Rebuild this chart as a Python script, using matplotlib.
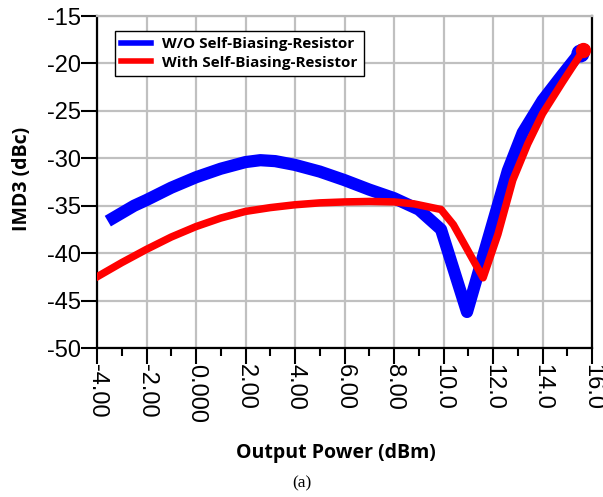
import matplotlib
matplotlib.use("Agg")
import matplotlib.pyplot as plt
from matplotlib.ticker import MultipleLocator

# Data
blue_x = [-3.35, -2.5, -2.0, -1.0, 0.0, 1.0, 2.0, 2.6, 3.2, 4.0, 5.0, 6.0, 7.0, 8.0, 9.0, 9.9, 10.95, 12.6, 13.2, 14.0, 14.8, 15.5]
blue_y = [-36.3, -35.0, -34.4, -33.1, -32.0, -31.1, -30.4, -30.2, -30.3, -30.7, -31.4, -32.3, -33.3, -34.2, -35.4, -37.5, -46.2, -31.3, -27.3, -23.9, -21.2, -18.9]
red_x = [-4.0, -3.0, -2.0, -1.0, 0.0, 1.0, 2.0, 3.0, 4.0, 5.0, 6.0, 7.0, 8.0, 8.8, 9.9, 10.4, 11.0, 11.6, 12.2, 12.8, 13.4, 14.0, 14.8, 15.65]
red_y = [-42.5, -41.0, -39.6, -38.3, -37.2, -36.3, -35.6, -35.2, -34.9, -34.7, -34.6, -34.55, -34.6, -34.8, -35.4, -37.0, -39.8, -42.6, -38.0, -32.3, -28.5, -25.3, -22.0, -18.6]

x_ticks = [-4, -2, 0, 2, 4, 6, 8, 10, 12, 14, 16]
x_labels = ["-4.00", "-2.00", "0.000", "2.00", "4.00", "6.00", "8.00", "10.0", "12.0", "14.0", "16.0"]
y_ticks = [-50, -45, -40, -35, -30, -25, -20, -15]
labels = ["W/O Self-Biasing-Resistor", "With Self-Biasing-Resistor"]

fig = plt.figure(figsize=(6.03, 4.97), dpi=100)
ax = fig.add_axes([97/603, 1-348/497, 495/603, 332/497])

ax.plot(blue_x, blue_y, color="#0000ff", lw=8.8, solid_joinstyle="round", label=labels[0], zorder=3)
ax.plot(red_x, red_y, color="#ff0000", lw=5.4, solid_joinstyle="round", label=labels[1], zorder=4)
ax.plot(blue_x[-1:], blue_y[-1:], "o", color="#0000ff", ms=12, zorder=3)
ax.plot(red_x[-1:], red_y[-1:], "o", color="#ff0000", ms=10, zorder=4)

ax.set_xlim(-4, 16)
ax.set_ylim(-50, -15)
ax.set_xticks(x_ticks)
ax.set_xticklabels(x_labels, rotation=270, fontsize=17, family="Liberation Sans")
ax.xaxis.set_minor_locator(MultipleLocator(1))
ax.set_yticks(y_ticks)
ax.set_yticklabels([str(v) for v in y_ticks], fontsize=17, family="Liberation Sans")
ax.tick_params(axis="both", which="major", length=11.5, width=1.5, direction="out", pad=0, color="black")
ax.tick_params(axis="x", which="minor", length=5.8, width=1.5, direction="out", color="black")

ax.grid(True, which="major", color="#c0c0c0", lw=1.6, zorder=0)
ax.set_axisbelow(True)
for s in ["left", "bottom", "right"]:
    ax.spines[s].set_color("black")
    ax.spines[s].set_linewidth(1.6)
ax.spines["top"].set_color("#b8b8b8")
ax.spines["top"].set_linewidth(1.6)

lab_font = dict(fontsize=14, fontweight="bold", family="Open Sans")
ax.set_ylabel("IMD3 (dBc)", **lab_font)
ax.set_xlabel("Output Power (dBm)", **lab_font)
ax.yaxis.set_label_coords(-0.131, 0.509)
ax.xaxis.set_label_coords(0.483, -0.286)

leg = ax.legend(loc="upper left", bbox_to_anchor=(0.036, 0.955), borderaxespad=0, frameon=True, fancybox=False,
                edgecolor="black", framealpha=1, borderpad=0.4, handlelength=2.0, handletextpad=0.7,
                labelspacing=0.3, prop={"family": "Open Sans", "weight": "bold", "size": 11})
leg.get_frame().set_linewidth(1.0)
for h in leg.get_lines():
    h.set_linewidth(4)

fig.text(302/603, 1-483/497, "(a)", ha="center", va="center", fontsize=12.5, family="Liberation Serif")

fig.savefig("out.png", dpi=100)
